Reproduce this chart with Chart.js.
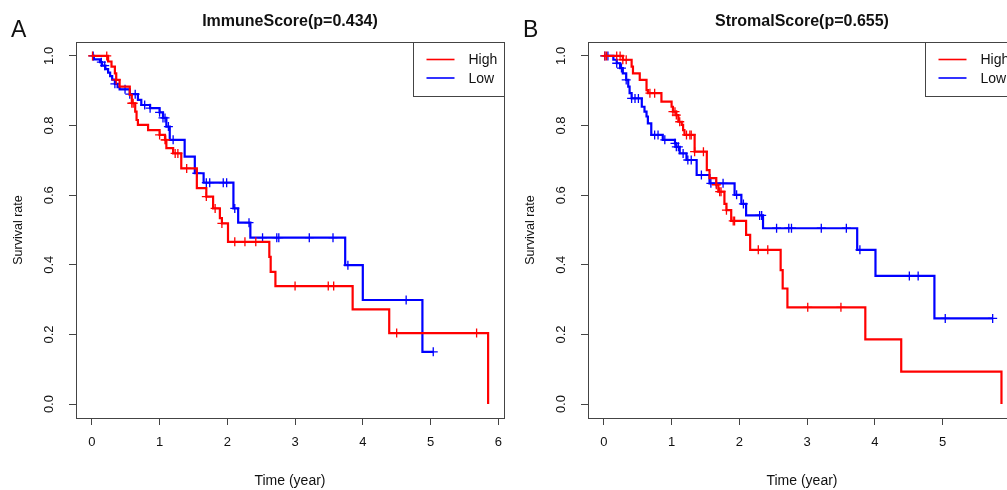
<!DOCTYPE html>
<html>
<head>
<meta charset="utf-8">
<script src="https://cdn.jsdelivr.net/npm/chart.js@4.4.1/dist/chart.umd.min.js"></script>
<style>
  html, body { margin: 0; padding: 0; background: #fff; overflow: hidden; }
  body { width: 1007px; height: 490px; position: relative; }
  canvas { position: absolute; top: 0; }
</style>
</head>
<body>
<canvas id="immune" width="512" height="490" style="left:0px"></canvas>
<canvas id="stromal" width="512" height="490" style="left:512px"></canvas>
<script>
// tick labels
var xTicks = [0, 1, 2, 3, 4, 5, 6]
var yTicks = [0.0, 0.2, 0.4, 0.6, 0.8, 1.0]
var groups = ["High", "Low"]

// ImmuneScore, High group
var immHighT = [0.24, 0.29, 0.34, 0.36, 0.41, 0.56, 0.59, 0.64, 0.66, 0.68, 0.83, 1.00, 1.08, 1.10, 1.20, 1.32, 1.55, 1.69, 1.79, 1.89, 1.92, 2.01, 2.62, 2.64, 2.71, 3.85, 4.39, 5.85]
var immHighS = [0.984, 0.969, 0.950, 0.931, 0.912, 0.888, 0.864, 0.840, 0.816, 0.802, 0.787, 0.773, 0.759, 0.735, 0.720, 0.677, 0.620, 0.596, 0.562, 0.534, 0.519, 0.466, 0.423, 0.380, 0.339, 0.272, 0.204, 0]
var immHighCens = [0.01, 0.22, 0.36, 0.59, 0.61, 1.0, 1.08, 1.09, 1.23, 1.27, 1.40, 1.69, 1.82, 1.92, 2.11, 2.26, 2.42, 3.0, 3.49, 3.57, 4.50, 5.68]

// ImmuneScore, Low group
var immLowT = [0.03, 0.12, 0.15, 0.20, 0.24, 0.27, 0.30, 0.34, 0.38, 0.41, 0.56, 0.68, 0.73, 0.86, 1.00, 1.05, 1.10, 1.15, 1.37, 1.52, 1.65, 2.09, 2.16, 2.34, 3.74, 4.00, 4.88]
var immLowS = [0.990, 0.982, 0.972, 0.962, 0.952, 0.942, 0.932, 0.920, 0.910, 0.904, 0.890, 0.874, 0.859, 0.850, 0.838, 0.822, 0.797, 0.759, 0.711, 0.663, 0.636, 0.562, 0.521, 0.478, 0.399, 0.299, 0.150]
var immLowCens = [0.02, 0.14, 0.19, 0.34, 0.49, 0.56, 0.64, 0.78, 0.86, 1.0, 1.05, 1.08, 1.13, 1.20, 1.55, 1.69, 1.74, 1.94, 1.99, 2.11, 2.32, 2.52, 2.73, 2.76, 3.21, 3.56, 3.78, 4.64, 5.04]

// StromalScore, High group
var strHighT = [0.28, 0.41, 0.43, 0.53, 0.63, 0.65, 0.85, 1.00, 1.02, 1.07, 1.10, 1.15, 1.17, 1.19, 1.34, 1.52, 1.56, 1.66, 1.69, 1.78, 1.81, 1.88, 2.10, 2.16, 2.61, 2.64, 2.71, 3.86, 4.39, 5.87]
var strHighS = [0.989, 0.969, 0.950, 0.931, 0.902, 0.893, 0.869, 0.854, 0.840, 0.830, 0.811, 0.802, 0.787, 0.773, 0.725, 0.672, 0.649, 0.630, 0.610, 0.575, 0.557, 0.526, 0.486, 0.443, 0.385, 0.332, 0.278, 0.186, 0.093, 0]
var strHighCens = [0.015, 0.04, 0.19, 0.24, 0.28, 0.33, 0.68, 0.75, 1.02, 1.05, 1.07, 1.12, 1.22, 1.27, 1.29, 1.34, 1.47, 1.66, 1.71, 1.73, 1.81, 1.91, 1.93, 2.28, 2.42, 3.01, 3.50]

// StromalScore, Low group
var strLowT = [0.14, 0.19, 0.24, 0.28, 0.33, 0.36, 0.38, 0.41, 0.56, 0.60, 0.63, 0.65, 0.70, 0.87, 1.05, 1.07, 1.12, 1.22, 1.37, 1.56, 1.93, 2.03, 2.10, 2.35, 3.74, 4.01, 4.88]
var strLowS = [0.989, 0.979, 0.965, 0.950, 0.931, 0.912, 0.893, 0.878, 0.854, 0.840, 0.826, 0.806, 0.773, 0.759, 0.749, 0.739, 0.720, 0.701, 0.658, 0.634, 0.601, 0.575, 0.542, 0.505, 0.443, 0.368, 0.246]
var strLowCens = [0.015, 0.06, 0.19, 0.26, 0.33, 0.41, 0.46, 0.51, 0.75, 0.80, 0.90, 1.05, 1.07, 1.10, 1.17, 1.24, 1.29, 1.44, 1.58, 1.66, 1.76, 1.96, 2.06, 2.30, 2.33, 2.55, 2.73, 2.77, 3.21, 3.58, 3.78, 4.51, 4.64, 5.04, 5.74]

var FONT = "'Liberation Sans', Arial, sans-serif"
Chart.defaults.font.family = FONT
Chart.defaults.color = "#111"

// merge events + censor times into one step curve, censor marks sit on the curve
function curva_km(tiempos, superv, censuras) {
    var pts = [{ x: 0, y: 1, c: 0 }]
    tiempos.forEach(function (t, i) { pts.push({ x: t, y: superv[i], c: 0 }) })
    censuras.forEach(function (t) { pts.push({ x: t, y: null, c: 1 }) })
    pts.sort(function (a, b) { return a.x - b.x || a.c - b.c })
    var s = 1
    pts.forEach(function (p) { if (p.c) p.y = s; else s = p.y })
    return pts
}

function serie(nombre, color, pts) {
    return {
        label: nombre, data: pts, borderColor: color, backgroundColor: color,
        borderWidth: 2.2, stepped: true, tension: 0, fill: false,
        pointStyle: 'cross', pointBorderWidth: 1.3,
        pointRadius: pts.map(function (p) { return p.c ? 4.5 : 0 }),
        pointHoverRadius: 0
    }
}

var marco = {
    id: 'marco',
    afterDraw: function (chart) {
        var ctx = chart.ctx, a = chart.chartArea
        var opt = chart.options.plugins.marco
        ctx.save()
        ctx.strokeStyle = '#444'
        ctx.lineWidth = 1
        ctx.strokeRect(Math.round(a.left) + 0.5, Math.round(a.top) + 0.5, Math.round(a.right - a.left), Math.round(a.bottom - a.top))
        // legend box in the top right corner
        var bw = 91, bh = 54
        var bx = Math.round(a.right - bw) + 0.5, by = Math.round(a.top) + 0.5
        ctx.strokeRect(bx, by, bw, bh)
        ctx.font = '14px ' + FONT
        ctx.textBaseline = 'middle'
        chart.data.datasets.forEach(function (ds, i) {
            var y = by + 17 + i * 18.5
            ctx.strokeStyle = ds.borderColor
            ctx.lineWidth = 1.6
            ctx.beginPath(); ctx.moveTo(bx + 13, y); ctx.lineTo(bx + 41, y); ctx.stroke()
            ctx.fillStyle = '#111'
            ctx.fillText(ds.label, bx + 55, y + 1)
        })
        // panel letter
        ctx.font = '23px ' + FONT
        ctx.textBaseline = 'alphabetic'
        ctx.fillText(opt.letra, 11, 37)
        ctx.restore()
    }
}

function grafica(id, titulo, letra, alto, bajo) {
    return new Chart(document.getElementById(id), {
        type: 'line',
        data: { datasets: [serie(groups[0], '#ff0000', alto), serie(groups[1], '#0000ff', bajo)] },
        options: {
            responsive: false, animation: false, events: [],
            layout: { padding: 0 },
            plugins: {
                legend: { display: false },
                tooltip: { enabled: false },
                title: {
                    display: true, text: titulo, fullSize: false,
                    font: { size: 16, weight: 'bold' }, color: '#111',
                    padding: { top: 12.4, bottom: 10.4 }
                },
                marco: { letra: letra }
            },
            scales: {
                x: {
                    type: 'linear', min: -0.234, max: 6.084,
                    afterFit: function (s) { s.height = 72 },
                    afterBuildTicks: function (s) { s.ticks = xTicks.map(function (v) { return { value: v } }) },
                    ticks: { includeBounds: false, padding: 10, font: { size: 13 }, color: '#111', maxRotation: 0 },
                    grid: { drawOnChartArea: false, tickLength: 7, color: '#444' },
                    border: { display: false },
                    title: { display: true, text: 'Time (year)', font: { size: 14 }, color: '#111', padding: 0 }
                },
                y: {
                    min: -0.04, max: 1.04,
                    afterFit: function (s) { s.width = 76 },
                    afterBuildTicks: function (s) { s.ticks = yTicks.map(function (v) { return { value: v } }) },
                    ticks: {
                        includeBounds: false, padding: 11, crossAlign: 'center',
                        minRotation: 90, maxRotation: 90, font: { size: 13 }, color: '#111',
                        callback: function (v) { return v.toFixed(1) }
                    },
                    grid: { drawOnChartArea: false, tickLength: 7, color: '#444' },
                    border: { display: false },
                    title: { display: true, text: 'Survival rate', font: { size: 12.5 }, color: '#111', padding: { top: 11.5, bottom: 0 } }
                }
            }
        },
        plugins: [marco]
    })
}

grafica('immune', 'ImmuneScore(p=0.434)', 'A',
    curva_km(immHighT, immHighS, immHighCens), curva_km(immLowT, immLowS, immLowCens))
grafica('stromal', 'StromalScore(p=0.655)', 'B',
    curva_km(strHighT, strHighS, strHighCens), curva_km(strLowT, strLowS, strLowCens))
</script>
</body>
</html>
